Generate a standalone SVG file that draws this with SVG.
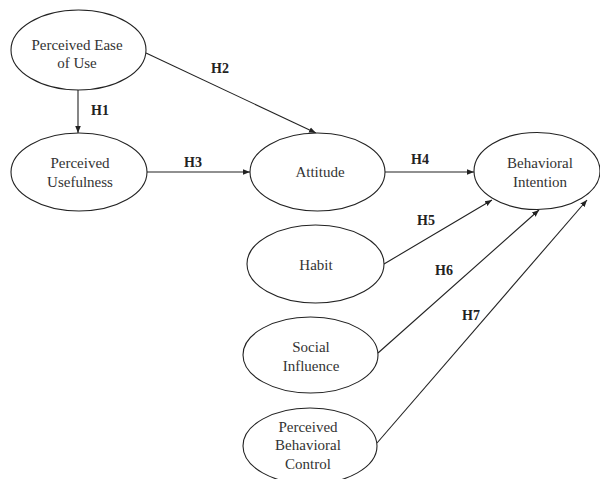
<svg xmlns="http://www.w3.org/2000/svg" width="600" height="479" viewBox="0 0 600 479">
<style>
.n ellipse{fill:#fff;stroke:#222;stroke-width:1.1}
.n text{font-family:"Liberation Serif",serif;font-size:15px;fill:#333;text-anchor:middle}
.e line{stroke:#222;stroke-width:1.1}
.lb{font-family:"Liberation Serif",serif;font-size:14px;font-weight:bold;fill:#222;text-anchor:middle}
</style>
<defs>
<marker id="a" viewBox="0 0 10 10" refX="10" refY="5" markerWidth="7" markerHeight="7" orient="auto" markerUnits="userSpaceOnUse">
<path d="M0,1 L10,5 L0,9 z" fill="#222"/>
</marker>
</defs>
<rect width="600" height="479" fill="#fff"/>
<g id="edges" class="e">
<line x1="78" y1="90" x2="78" y2="133" marker-end="url(#a)"/>
<line x1="146" y1="53" x2="316" y2="133" marker-end="url(#a)"/>
<line x1="147" y1="172" x2="250" y2="172" marker-end="url(#a)"/>
<line x1="385" y1="172" x2="474" y2="172" marker-end="url(#a)"/>
<line x1="384" y1="264" x2="492" y2="200" marker-end="url(#a)"/>
<line x1="378" y1="353" x2="539" y2="210" marker-end="url(#a)"/>
<line x1="377" y1="443" x2="587" y2="200" marker-end="url(#a)"/>
</g>
<g id="labels">
<text class="lb" x="100" y="115">H1</text>
<text class="lb" x="220" y="73">H2</text>
<text class="lb" x="193" y="167">H3</text>
<text class="lb" x="420" y="164">H4</text>
<text class="lb" x="426" y="225">H5</text>
<text class="lb" x="444" y="275">H6</text>
<text class="lb" x="471" y="320">H7</text>
</g>
<g id="peou" class="n">
<ellipse cx="78.5" cy="50" rx="67.5" ry="40"/>
<text x="77" y="50">Perceived Ease</text>
<text x="77" y="68">of Use</text>
</g>
<g id="pu" class="n">
<ellipse cx="79" cy="172" rx="68" ry="39"/>
<text x="80" y="168">Perceived</text>
<text x="80" y="187">Usefulness</text>
</g>
<g id="attitude" class="n">
<ellipse cx="317.5" cy="172" rx="67.5" ry="39"/>
<text x="320" y="177">Attitude</text>
</g>
<g id="bi" class="n">
<ellipse cx="537" cy="171" rx="63" ry="38.5"/>
<text x="540" y="168">Behavioral</text>
<text x="540" y="187">Intention</text>
</g>
<g id="habit" class="n">
<ellipse cx="315.5" cy="264" rx="68.5" ry="39"/>
<text x="316" y="270">Habit</text>
</g>
<g id="si" class="n">
<ellipse cx="310.5" cy="355" rx="67.5" ry="38"/>
<text x="311" y="352">Social</text>
<text x="311" y="371">Influence</text>
</g>
<g id="pbc" class="n">
<ellipse cx="310" cy="446" rx="67" ry="38"/>
<text x="308" y="432">Perceived</text>
<text x="308" y="450">Behavioral</text>
<text x="308" y="469">Control</text>
</g>
</svg>
